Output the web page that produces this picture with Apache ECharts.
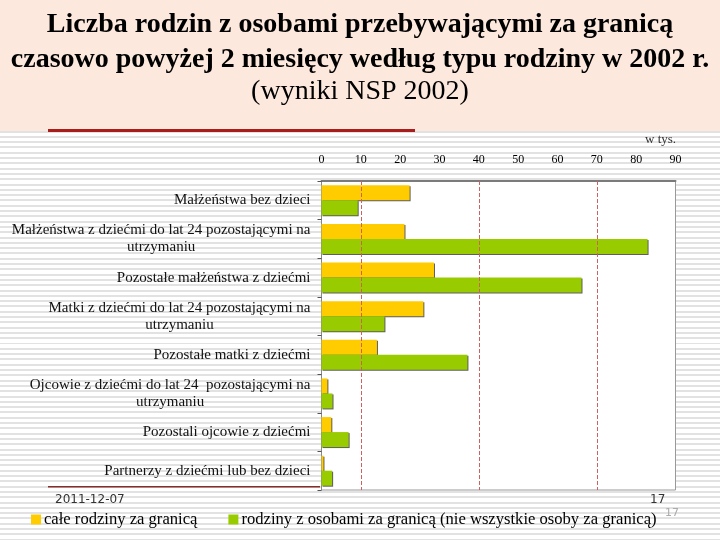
<!DOCTYPE html>
<html><head><meta charset="utf-8">
<script src="https://cdn.jsdelivr.net/npm/echarts@6/dist/echarts.min.js"></script>
<style>
html,body{margin:0;padding:0;}
#c{width:720px;height:540px;background:repeating-linear-gradient(to bottom,#ffffff 0px,#ffffff 3.3px,#e2e2e2 3.3px,#e2e2e2 5.3px);}
</style></head><body><div id="c"></div>
<script>
const categories = [
  "Małżeństwa bez dzieci",
  "Małżeństwa z dziećmi do lat 24 pozostającymi na\nutrzymaniu",
  "Pozostałe małżeństwa z dziećmi",
  "Matki z dziećmi do lat 24 pozostającymi na\nutrzymaniu",
  "Pozostałe matki z dziećmi",
  "Ojcowie z dziećmi do lat 24  pozostającymi na\nutrzymaniu",
  "Pozostali ojcowie z dziećmi",
  "Partnerzy z dziećmi lub bez dzieci"
];
const seriesNames = ["całe rodziny za granicą", "rodziny z osobami za granicą (nie wszystkie osoby za granicą)"];
const wholeFamilies = [22.4, 21.1, 28.6, 25.9, 14.1, 1.5, 2.5, 0.5];
const partialFamilies = [9.2, 82.9, 66.1, 16.0, 37.1, 2.8, 6.9, 2.7];
const axisMin = 0, axisMax = 90, axisStep = 10;
const gridLineValues = [10, 40, 70];

const serif = '"Liberation Serif","DejaVu Serif",serif';
const chart = echarts.init(document.getElementById('c'));
const barShadow = {shadowColor:'rgba(40,40,40,0.75)', shadowOffsetX:1, shadowOffsetY:1, shadowBlur:0};
chart.setOption({
  backgroundColor: 'transparent',
  animation: false,
  title: [
    {text:'Liczba rodzin z osobami przebywającymi za granicą', left:'center', top:6,
     textStyle:{fontFamily:serif, fontWeight:'bold', fontSize:28, color:'#000'}},
    {text:'czasowo powyżej 2 miesięcy według typu rodziny w 2002 r.', left:'center', top:41,
     textStyle:{fontFamily:serif, fontWeight:'bold', fontSize:28, color:'#000'}},
    {text:'(wyniki NSP 2002)', left:'center', top:73,
     textStyle:{fontFamily:serif, fontWeight:'normal', fontSize:28, color:'#000'}}
  ],
  graphic: [
    {type:'rect', z:-10, shape:{x:0,y:0,width:720,height:131}, style:{fill:'#fce8dc'}},
    {type:'rect', z:-9, shape:{x:48,y:129,width:367,height:3}, style:{fill:'#a91d1d'}},
    {type:'rect', z:-9, shape:{x:48,y:486,width:272,height:1.5}, style:{fill:'#8a2a2a'}},
    {type:'text', left:645, top:133, style:{text:'w tys.', font:'13px '+serif, fill:'#333'}},
    {type:'text', left:55, top:494, style:{text:'2011-12-07', font:'12px "DejaVu Sans",sans-serif', fill:'#333'}},
    {type:'text', left:650, top:494, style:{text:'17', font:'12px "DejaVu Sans",sans-serif', fill:'#333'}},
    {type:'text', left:665, top:508, style:{text:'17', font:'11px "DejaVu Sans",sans-serif', fill:'#aaa'}}
  ],
  legend: {
    left: 26, top: 506, itemWidth: 10, itemHeight: 10, itemGap: 31, icon: 'rect',
    textStyle: {fontFamily: serif, fontSize: 16.6, color: '#000', padding:[0,0,0,-2]},
    data: seriesNames
  },
  grid: {left: 321.5, right: 44.5, top: 181, bottom: 50, show: true, backgroundColor: '#fff', borderColor: '#999', borderWidth: 1},
  xAxis: {
    type: 'value', position: 'top', min: axisMin, max: axisMax, interval: axisStep,
    axisLine: {show: true, lineStyle: {color: '#7a7a7a', width: 2}},
    axisTick: {show: false}, splitLine: {show: false},
    axisLabel: {fontFamily: serif, fontSize: 12, color: '#000', margin: 15}
  },
  yAxis: {
    type: 'category', inverse: true, data: categories,
    axisLine: {show: true, lineStyle: {color: '#888'}},
    axisTick: {show: true, length: 4, lineStyle: {color: '#555'}},
    axisLabel: {
      margin: 11, color: '#111',
      formatter: v => v.split('\n').map(l => '{c|' + l + '}').join('\n'),
      rich: {c: {fontFamily: serif, fontSize: 15, lineHeight: 17, align: 'center', color: '#111'}}
    }
  },
  series: [
    {name: seriesNames[0], type: 'bar', data: wholeFamilies, barWidth: 15, barGap: '0%',
     itemStyle: Object.assign({color: '#ffcc00'}, barShadow),
     markLine: {silent: true, symbol: ['none','none'], label: {show: false},
       lineStyle: {type: 'dashed', color: '#d06060', width: 1},
       data: gridLineValues.map(v => ({xAxis: v}))}},
    {name: seriesNames[1], type: 'bar', data: partialFamilies, barWidth: 15, barGap: '0%',
     itemStyle: Object.assign({color: '#99cc00'}, barShadow)}
  ]
});
</script></body></html>
